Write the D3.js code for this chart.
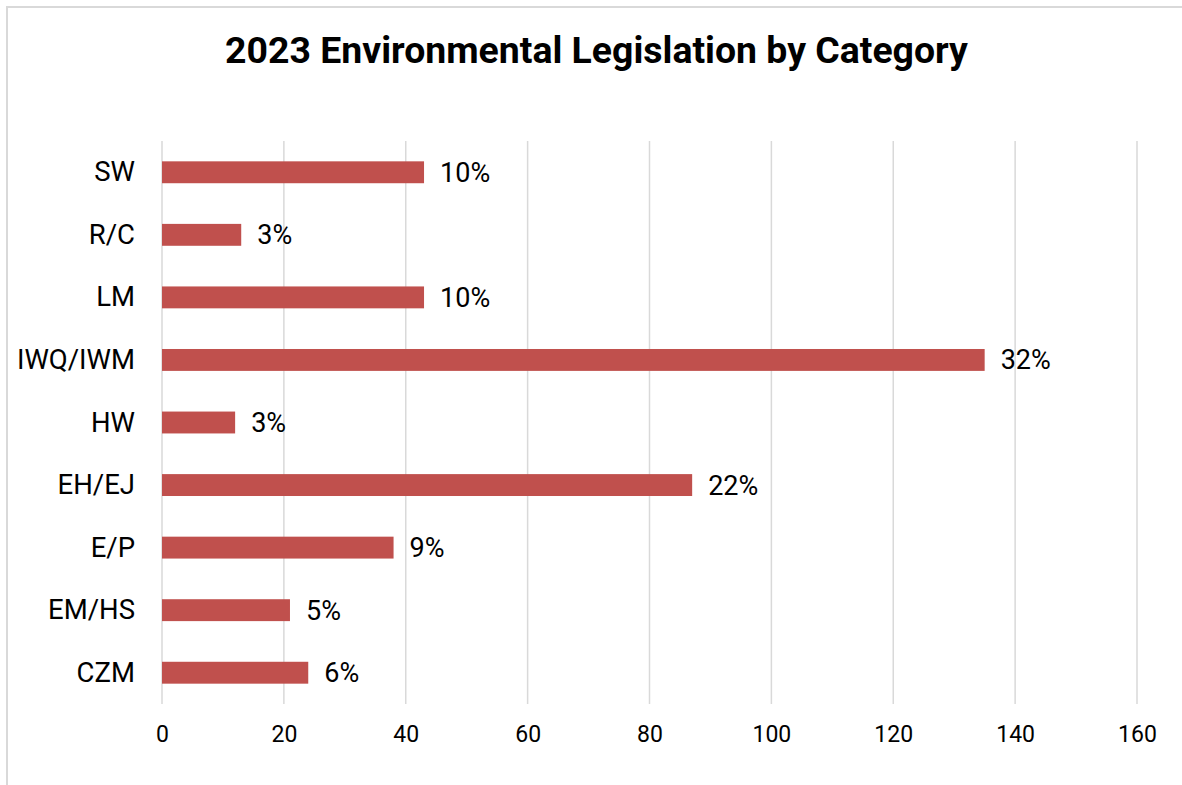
<!DOCTYPE html>
<html><head><meta charset="utf-8">
<script src="https://cdn.jsdelivr.net/npm/d3@7"></script>
<style>
html,body{margin:0;padding:0;background:#fff;}
svg{display:block;font-family:Roboto, "Noto Sans", sans-serif;}
</style></head>
<body>
<svg id="chart" width="1182" height="785"></svg>
<script>
const title = "2023 Environmental Legislation by Category";
const categories = ["SW","R/C","LM","IWQ/IWM","HW","EH/EJ","E/P","EM/HS","CZM"];
const values = [43, 13, 43, 135, 12, 87, 38, 21, 24];
const labels = ["10%","3%","10%","32%","3%","22%","9%","5%","6%"];
const xTicks = [0,20,40,60,80,100,120,140,160];

const svg = d3.select("#chart");
// frame
svg.append("rect").attr("x",7).attr("y",7).attr("width",1182).attr("height",800)
  .attr("fill","#fff").attr("stroke","#d9d9d9").attr("stroke-width",2);

svg.append("text").attr("x",596.5).attr("y",63).attr("text-anchor","middle")
  .attr("font-size",37.4).attr("font-weight","bold").attr("fill","#000").text(title);

const x = d3.scaleLinear().domain([0,160]).range([162,1137]);
const y = d3.scaleBand().domain(categories).range([141,704]).padding(0.65).paddingOuter(0.325);

const grid = svg.append("g");
grid.selectAll("line").data(xTicks).join("line")
  .attr("x1",d=>x(d)).attr("x2",d=>x(d)).attr("y1",141).attr("y2",704)
  .attr("stroke","#d9d9d9").attr("stroke-width",1.5);

const xAxis = d3.axisBottom(x).tickValues(xTicks).tickSize(0).tickPadding(0);
const gx = svg.append("g").attr("transform","translate(0,742)").call(xAxis);
gx.select(".domain").remove();
gx.selectAll("text").attr("font-size",23).attr("fill","#000").attr("font-family","Roboto").attr("dy",0);

const yAxis = d3.axisLeft(y).tickSize(0).tickPadding(0);
const gy = svg.append("g").attr("transform","translate(135,0)").call(yAxis);
gy.select(".domain").remove();
gy.selectAll("text").attr("font-size",27.5).attr("fill","#000").attr("font-family","Roboto").attr("dy","0.33em");

svg.append("g").selectAll("rect").data(values).join("rect")
  .attr("x",x(0)).attr("y",(d,i)=>y(categories[i]))
  .attr("width",d=>x(d)-x(0)).attr("height",y.bandwidth())
  .attr("fill","#c0504d");

svg.append("g").selectAll("text").data(values).join("text")
  .attr("x",d=>x(d)+16).attr("y",(d,i)=>y(categories[i])+y.bandwidth()/2)
  .attr("dy","0.35em").attr("font-size",27).attr("fill","#000")
  .text((d,i)=>labels[i]);
</script>
</body></html>
